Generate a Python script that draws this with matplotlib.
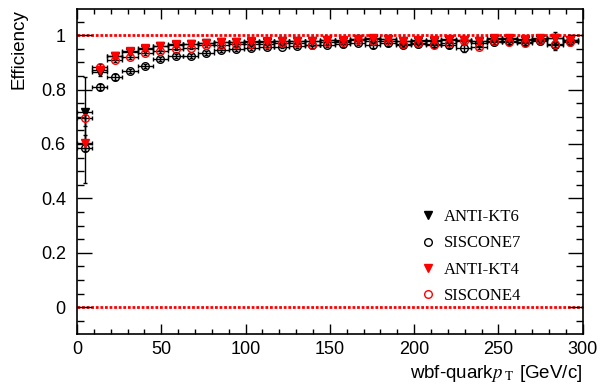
import numpy as np
import matplotlib
matplotlib.use("Agg")
import matplotlib.pyplot as plt
from matplotlib.ticker import MultipleLocator

plt.rcParams["mathtext.fontset"] = "stix"

# quark pT bin centres [GeV/c], 9 GeV wide bins
pt_centers = [4.5, 13.5, 22.5, 31.5, 40.5, 49.5, 58.5, 67.5, 76.5, 85.5,
              94.5, 103.5, 112.5, 121.5, 130.5, 139.5, 148.5, 157.5, 166.5,
              175.5, 184.5, 193.5, 202.5, 211.5, 220.5, 229.5, 238.5, 247.5,
              256.5, 265.5, 274.5, 283.5, 292.5]
pt_halfwidth = 4.5

eff_antikt6 = [0.717, 0.864, 0.923, 0.938, 0.950, 0.959, 0.965, 0.967, 0.971,
               0.975, 0.975, 0.976, 0.976, 0.978, 0.980, 0.978, 0.981, 0.980,
               0.985, 0.985, 0.985, 0.978, 0.980, 0.980, 0.983, 0.981, 0.978,
               0.987, 0.987, 0.983, 0.987, 0.990, 0.981]
err_antikt6 = [0.130, 0.015, 0.010, 0.008, 0.007, 0.006, 0.006, 0.006, 0.006,
               0.006, 0.006, 0.006, 0.006, 0.006, 0.006, 0.007, 0.007, 0.007,
               0.007, 0.007, 0.008, 0.008, 0.008, 0.009, 0.009, 0.010, 0.010,
               0.010, 0.011, 0.011, 0.012, 0.020, 0.018]

eff_siscone7 = [0.585, 0.809, 0.846, 0.867, 0.886, 0.912, 0.922, 0.924, 0.934,
                0.945, 0.950, 0.953, 0.955, 0.958, 0.960, 0.962, 0.965, 0.966,
                0.972, 0.962, 0.970, 0.965, 0.968, 0.966, 0.965, 0.951, 0.972,
                0.975, 0.978, 0.975, 0.980, 0.962, 0.978]
err_siscone7 = [0.130, 0.012, 0.010, 0.008, 0.008, 0.007, 0.007, 0.007, 0.007,
                0.007, 0.007, 0.007, 0.007, 0.007, 0.007, 0.008, 0.008, 0.008,
                0.008, 0.009, 0.009, 0.009, 0.010, 0.010, 0.011, 0.012, 0.012,
                0.012, 0.012, 0.013, 0.013, 0.015, 0.015]

eff_antikt4 = [0.603, 0.870, 0.925, 0.940, 0.952, 0.960, 0.966, 0.968, 0.972,
               0.975, 0.976, 0.977, 0.978, 0.979, 0.980, 0.979, 0.983, 0.981,
               0.986, 0.988, 0.986, 0.980, 0.982, 0.981, 0.985, 0.983, 0.980,
               0.988, 0.988, 0.985, 0.988, 0.990, 0.983]
err_antikt4 = [0.030, 0.012, 0.008, 0.007, 0.006, 0.006, 0.005, 0.005, 0.005,
               0.005, 0.005, 0.005, 0.005, 0.005, 0.006, 0.006, 0.006, 0.006,
               0.006, 0.006, 0.007, 0.007, 0.007, 0.008, 0.008, 0.008, 0.009,
               0.009, 0.009, 0.010, 0.010, 0.011, 0.011]

eff_siscone4 = [0.695, 0.882, 0.910, 0.919, 0.934, 0.941, 0.950, 0.954, 0.962,
                0.964, 0.966, 0.968, 0.969, 0.970, 0.972, 0.965, 0.973, 0.974,
                0.983, 0.978, 0.978, 0.968, 0.971, 0.965, 0.971, 0.978, 0.958,
                0.978, 0.973, 0.971, 0.981, 0.968, 0.974]
err_siscone4 = [0.030, 0.012, 0.008, 0.007, 0.006, 0.006, 0.006, 0.005, 0.005,
                0.005, 0.005, 0.005, 0.005, 0.005, 0.006, 0.006, 0.006, 0.006,
                0.006, 0.007, 0.007, 0.007, 0.008, 0.008, 0.008, 0.009, 0.009,
                0.009, 0.010, 0.010, 0.011, 0.011, 0.012]

series = [
    ("ANTI-KT6", eff_antikt6, err_antikt6, "v", "black", "black"),
    ("SISCONE7", eff_siscone7, err_siscone7, "o", "black", "none"),
    ("ANTI-KT4", eff_antikt4, err_antikt4, "v", "red", "red"),
    ("SISCONE4", eff_siscone4, err_siscone4, "o", "red", "none"),
]

fig = plt.figure(figsize=(6.09, 3.87), dpi=100)
ax = fig.add_axes([0.1264, 0.137, 0.8305, 0.8405])

# reference lines at 0 and 1
for yref in (0.0, 1.0):
    ax.axhline(yref, color="red", lw=2.0, ls=(0, (1.0, 0.65)), zorder=1)

x = np.array(pt_centers)
handles = []
for label, eff, err, marker, color, face in series:
    ax.errorbar(x, eff, xerr=pt_halfwidth, yerr=err, fmt="none",
                ecolor="black", elinewidth=1.0, capsize=1.5, capthick=1.0,
                zorder=2)
    h, = ax.plot(x, eff, ls="none", marker=marker, ms=6 if marker == "v" else 5.5,
                 mec=color, mfc=face, mew=1.0, zorder=3)
    handles.append((h, label))

ax.set_xlim(0, 300)
ax.set_ylim(-0.098, 1.097)
ax.xaxis.set_major_locator(MultipleLocator(50))
ax.xaxis.set_minor_locator(MultipleLocator(10))
ax.yaxis.set_minor_locator(MultipleLocator(0.05))
ax.set_yticks([0, 0.2, 0.4, 0.6, 0.8, 1.0])
ax.set_yticklabels(["0", "0.2", "0.4", "0.6", "0.8", "1"])
ax.tick_params(which="both", direction="in", top=True, right=True,
               labelsize=13)
ax.tick_params(axis="x", which="major", length=7, width=1.0, pad=5)
ax.tick_params(axis="x", which="minor", length=3.6, width=1.0)
ax.tick_params(axis="y", which="major", length=10.5, width=1.0, pad=8)
ax.tick_params(axis="y", which="minor", length=5.3, width=1.0)
for sp in ax.spines.values():
    sp.set_linewidth(1.2)
for lab in ax.get_xticklabels() + ax.get_yticklabels():
    lab.set_family("Liberation Sans")

ax.set_xlabel(r"wbf-quark$p_{\ \mathrm{T}}$ [GeV/c]", fontsize=13.5,
              family="Liberation Sans", loc="right", labelpad=4)
ax.set_ylabel("Efficiency", fontsize=13.5, family="Liberation Sans",
              loc="top", labelpad=9.5)

leg = ax.legend([h for h, _ in handles], [l for _, l in handles],
                loc="lower left", bbox_to_anchor=(0.647, 0.046), frameon=False,
                prop={"family": "Liberation Serif", "size": 12},
                handletextpad=0.5, labelspacing=0.62, handlelength=1.0)

fig.savefig("out.png", dpi=100)
